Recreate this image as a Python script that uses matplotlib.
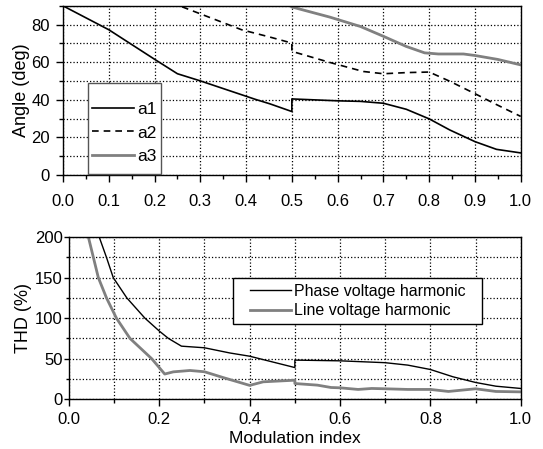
import matplotlib
matplotlib.use('Agg')
import matplotlib.pyplot as plt
from matplotlib.ticker import MultipleLocator

plt.rcParams['font.family'] = ['Liberation Sans', 'DejaVu Sans']

# switching angles (deg) vs modulation index
a1_x = [0.0, 0.1, 0.2, 0.25, 0.3, 0.42, 0.452, 0.5, 0.5, 0.6, 0.65, 0.7, 0.75, 0.8, 0.845, 0.9, 0.947, 1.0]
a1_y = [90, 77.3, 61.6, 53.9, 50.1, 40.3, 37.9, 33.8, 40.5, 39.5, 39.2, 38.2, 35.0, 29.9, 24.0, 17.8, 13.7, 11.8]

a2_x = [0.26, 0.39, 0.452, 0.5, 0.5, 0.583, 0.656, 0.7, 0.75, 0.8, 0.845, 0.9, 0.947, 1.0]
a2_y = [89.5, 77.3, 73.4, 70.2, 65.8, 59.9, 55.1, 53.9, 54.5, 54.8, 49.9, 43.3, 37.5, 31.2]

a3_x = [0.5, 0.583, 0.65, 0.7, 0.75, 0.79, 0.82, 0.875, 0.9, 0.95, 1.0]
a3_y = [89.4, 84.0, 79.0, 73.8, 68.4, 65.0, 64.4, 64.4, 63.6, 61.5, 58.6]

# THD (%) vs modulation index
phase_x = [0.067, 0.083, 0.098, 0.128, 0.168, 0.2, 0.22, 0.249, 0.3, 0.356, 0.4, 0.5, 0.5, 0.6, 0.7,
           0.75, 0.8, 0.85, 0.9, 0.945, 1.0]
phase_y = [200, 175, 150, 125, 100, 84, 75, 65.4, 63.4, 57, 53, 39, 48.2, 47.3, 45, 42, 36.6, 27.6,
           20.6, 16, 13.2]

line_x = [0.043, 0.054, 0.065, 0.083, 0.105, 0.135, 0.183, 0.212, 0.231, 0.268, 0.3, 0.341, 0.4, 0.43,
          0.5, 0.5, 0.55, 0.58, 0.6, 0.64, 0.67, 0.7, 0.75, 0.8, 0.84, 0.9, 0.945, 1.0]
line_y = [200, 175, 150, 125, 100, 75, 50, 31, 33.7, 35.4, 33.8, 26.7, 17, 21.4, 23.4, 19.3, 17.3,
          14.4, 14, 12, 13.2, 12.8, 12, 12, 9.5, 12.8, 9.5, 9]

GRAY = '#808080'

fig = plt.figure(figsize=(5.43, 4.49), dpi=100)
ax1 = fig.add_axes([0.116, 0.610, 0.843, 0.377])
ax2 = fig.add_axes([0.127, 0.111, 0.832, 0.361])

ax1.plot(a1_x, a1_y, color='black', lw=1.2, label='a1')
ax1.plot(a2_x, a2_y, color='black', lw=1.2, ls=(0, (4, 3)), label='a2')
ax1.plot(a3_x, a3_y, color=GRAY, lw=2, label='a3')
ax1.set_xlim(0, 1)
ax1.set_ylim(0, 90)
ax1.xaxis.set_major_locator(MultipleLocator(0.1))
ax1.xaxis.set_minor_locator(MultipleLocator(0.05))
ax1.yaxis.set_major_locator(MultipleLocator(20))
ax1.yaxis.set_minor_locator(MultipleLocator(10))
ax1.set_ylabel('Angle (deg)', fontsize=13, labelpad=1)
ax1.grid(True, which='major', axis='x', ls=':', color='black', lw=0.9)
ax1.grid(True, which='both', axis='y', ls=':', color='black', lw=0.9)
# tiny blank title gives the extra room above the first entry
leg1 = ax1.legend(loc='lower left', bbox_to_anchor=(0.06, 0.053), borderaxespad=0, fontsize=12.5,
                  handlelength=2.4, handletextpad=0.2, labelspacing=0.5, fancybox=False,
                  framealpha=1, borderpad=0.1, title=' ', title_fontsize=1)
fr1 = leg1.get_frame()
fr1.set_edgecolor('#555555')
fr1.set_boxstyle('square', pad=0.12)
fr1.set_mutation_aspect(3.6)

ax2.plot(phase_x, phase_y, color='black', lw=1.0, label='Phase voltage harmonic')
ax2.plot(line_x, line_y, color=GRAY, lw=2, label='Line voltage harmonic')
ax2.set_xlim(0, 1)
ax2.set_ylim(0, 200)
ax2.xaxis.set_major_locator(MultipleLocator(0.2))
ax2.xaxis.set_minor_locator(MultipleLocator(0.1))
ax2.yaxis.set_major_locator(MultipleLocator(50))
ax2.yaxis.set_minor_locator(MultipleLocator(25))
ax2.set_xlabel('Modulation index', fontsize=12.5, labelpad=3)
ax2.set_ylabel('THD (%)', fontsize=13, labelpad=2)
ax2.grid(True, which='both', ls=':', color='black', lw=0.9)
leg2 = ax2.legend(loc='upper left', bbox_to_anchor=(0.39, 0.742), borderaxespad=0, fontsize=11.5,
                  handlelength=2.6, handletextpad=0.15, labelspacing=0.3, fancybox=False,
                  framealpha=1, borderpad=0.3)
fr2 = leg2.get_frame()
fr2.set_edgecolor('black')
fr2.set_boxstyle('square', pad=0.75)
fr2.set_mutation_aspect(0.04)

for ax in (ax1, ax2):
    ax.set_axisbelow(True)
    ax.tick_params(which='major', direction='out', length=5, width=1, labelsize=12, pad=4)
    ax.tick_params(which='minor', direction='out', length=3, width=1)
    for s in ax.spines.values():
        s.set_linewidth(1.0)

# label offsets differ between the two panels
ax1.tick_params(axis='x', which='major', pad=8.3)
ax1.tick_params(axis='y', which='major', pad=4.6)
ax2.tick_params(axis='y', which='major', length=3.6, pad=0.7)
ax2.tick_params(axis='y', which='minor', length=2.5)

fig.savefig('out.png', dpi=100)
